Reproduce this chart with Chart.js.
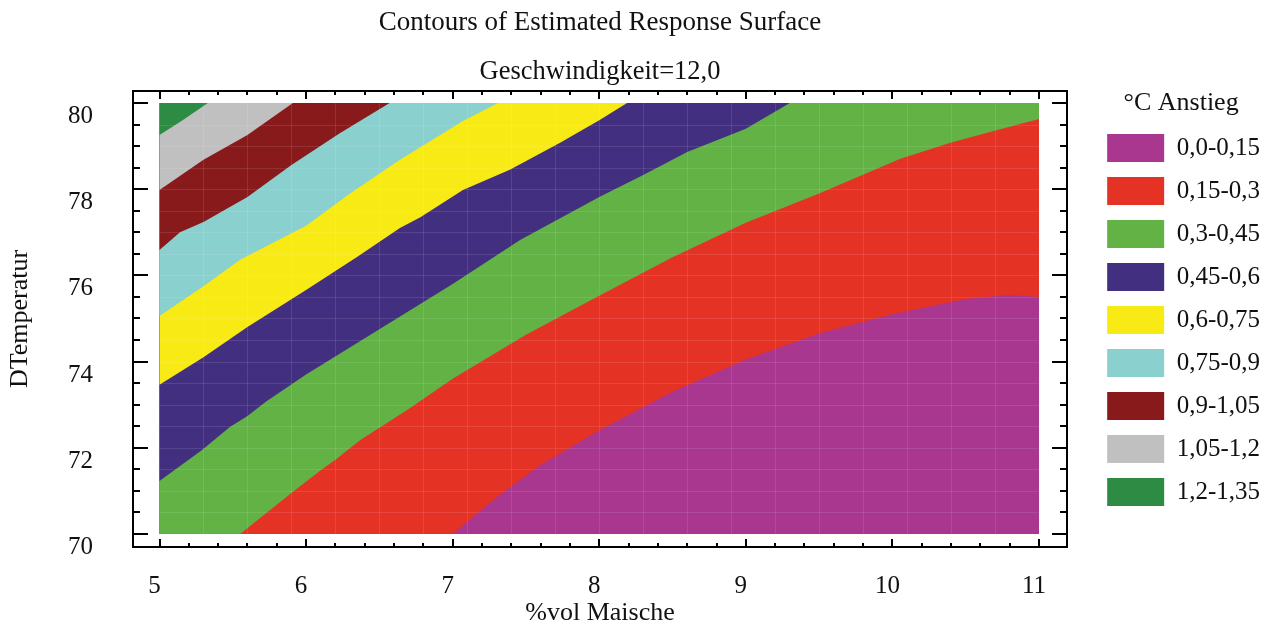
<!DOCTYPE html>
<html>
<head>
<meta charset="utf-8">
<title>Contours of Estimated Response Surface</title>
<script src="https://cdn.jsdelivr.net/npm/chart.js@4/dist/chart.umd.min.js"></script>
<style>
  html, body { margin: 0; padding: 0; background: #fff; }
  canvas { display: block; }
</style>
</head>
<body>
<canvas id="chart" width="1270" height="627"></canvas>
<script>
// Domain of the fitted surface
const X_RANGE = [5, 11];      // %vol Maische
const Y_RANGE = [70, 80];     // DTemperatur
const X_TICKS = [5, 6, 7, 8, 9, 10, 11];
const Y_TICKS = [70, 72, 74, 76, 78, 80];

// Response bands, lowest to highest
const BAND_LABELS = ['0,0-0,15', '0,15-0,3', '0,3-0,45', '0,45-0,6', '0,6-0,75',
                     '0,75-0,9', '0,9-1,05', '1,05-1,2', '1,2-1,35'];
const BAND_COLORS = ['#A9368F', '#E43225', '#62B246', '#432F80', '#F8EA14',
                     '#89D0CE', '#891A1C', '#C0C0C0', '#2E8B43'];

// Contour lines between neighbouring bands, as [%vol, DTemperatur] pairs
const contour015 = [[7.0, 70.0], [7.3, 70.85], [7.6, 71.6], [8.0, 72.4], [8.5, 73.3], [9.0, 74.05],
                    [9.5, 74.65], [10.0, 75.1], [10.5, 75.45], [10.8, 75.55], [11.0, 75.5]];
const contour030 = [[5.55, 70.0], [5.9, 70.95], [6.1, 71.48], [6.2, 71.72], [6.37, 72.18], [6.7, 72.9],
                    [7.0, 73.6], [7.5, 74.62], [8.0, 75.53], [8.5, 76.42], [9.0, 77.22], [9.5, 77.9],
                    [10.05, 78.7], [10.39, 79.07], [10.71, 79.37], [11.0, 79.63]];
const contour045 = [[5.0, 71.23], [5.29, 71.95], [5.48, 72.48], [5.6, 72.74], [5.73, 73.08], [6.0, 73.7],
                    [6.5, 74.75], [7.0, 75.8], [7.46, 76.82], [8.0, 77.82], [8.3, 78.33], [8.6, 78.86],
                    [9.0, 79.4], [9.3, 80.0]];
const contour060 = [[5.0, 73.46], [5.3, 74.1], [5.6, 74.8], [6.0, 75.66], [6.35, 76.43], [6.64, 77.1],
                    [6.78, 77.35], [7.07, 77.98], [7.39, 78.45], [7.73, 79.07], [8.0, 79.6], [8.19, 80.0]];
const contour075 = [[5.0, 75.06], [5.3, 75.75], [5.55, 76.36], [6.0, 77.15], [6.3, 77.9], [6.64, 78.68],
                    [7.07, 79.58], [7.31, 80.0]];
const contour090 = [[5.0, 76.59], [5.14, 77.0], [5.3, 77.24], [5.6, 77.82], [5.9, 78.56], [6.23, 79.3],
                    [6.57, 80.0]];
const contour105 = [[5.0, 77.98], [5.3, 78.68], [5.6, 79.26], [5.91, 80.0]];
const contour120 = [[5.0, 79.26], [5.15, 79.58], [5.33, 80.0]];

const CONTOURS = [contour015, contour030, contour045, contour060, contour075,
                  contour090, contour105, contour120];

// Closed outline of the part of the domain lying above a contour line
function regionAbove(line) {
  const [x0, x1] = X_RANGE;
  const [y0, y1] = Y_RANGE;
  const pts = line.map(([x, y]) => ({ x, y }));
  const first = line[0];
  const last = line[line.length - 1];
  if (last[0] === x1 && last[1] < y1) pts.push({ x: x1, y: y1 });
  pts.push({ x: x0, y: y1 });
  if (first[1] === y0 && first[0] > x0) pts.push({ x: x0, y: y0 });
  return pts;
}

const wholeDomain = [
  { x: X_RANGE[0], y: Y_RANGE[0] }, { x: X_RANGE[1], y: Y_RANGE[0] },
  { x: X_RANGE[1], y: Y_RANGE[1] }, { x: X_RANGE[0], y: Y_RANGE[1] }
];

// Highest band first so that it is painted on top
const datasets = BAND_LABELS.map((label, k) => ({
  label,
  data: k === 0 ? wholeDomain : regionAbove(CONTOURS[k - 1]),
  backgroundColor: BAND_COLORS[k],
  borderColor: BAND_COLORS[k],
  borderWidth: 0,
  pointRadius: 0,
  pointHoverRadius: 0,
  tension: 0,
  fill: 'shape'
})).reverse();

const TEXT = '#111';
const FONT = 'Liberation Serif';
Chart.defaults.font.family = FONT;
Chart.defaults.color = TEXT;

// Box around the plot, inward tick marks and the faint mesh of the surface
const framePlugin = {
  id: 'frame',
  afterDatasetsDraw(chart) {
    const { ctx, chartArea: a, scales: { x, y } } = chart;
    const L = x.getPixelForValue(X_RANGE[0]);
    const R = x.getPixelForValue(X_RANGE[1]);
    const T = y.getPixelForValue(Y_RANGE[1]);
    const B = y.getPixelForValue(Y_RANGE[0]);

    ctx.save();
    ctx.beginPath();
    ctx.rect(L, T, R - L, B - T);
    ctx.clip();
    ctx.strokeStyle = 'rgba(255,255,255,0.10)';
    ctx.lineWidth = 1;
    ctx.beginPath();
    for (let i = 1; X_RANGE[0] + 0.3 * i < X_RANGE[1]; i++) {
      const px = Math.round(x.getPixelForValue(X_RANGE[0] + 0.3 * i)) + 0.5;
      ctx.moveTo(px, T); ctx.lineTo(px, B);
    }
    for (let i = 1; Y_RANGE[0] + 0.5 * i < Y_RANGE[1]; i++) {
      const py = Math.round(y.getPixelForValue(Y_RANGE[0] + 0.5 * i)) + 0.5;
      ctx.moveTo(L, py); ctx.lineTo(R, py);
    }
    ctx.stroke();
    ctx.restore();

    ctx.save();
    ctx.strokeStyle = '#000';
    ctx.lineWidth = 2;
    ctx.strokeRect(a.left, a.top, a.right - a.left, a.bottom - a.top);
    ctx.beginPath();
    for (let i = 0; ; i++) {
      const v = X_RANGE[0] + 0.2 * i;
      if (v > X_RANGE[1] + 1e-6) break;
      const major = Math.abs(v - Math.round(v)) < 1e-6;
      const len = major ? 8 : 4;
      const px = Math.round(x.getPixelForValue(v));
      ctx.moveTo(px, a.bottom); ctx.lineTo(px, a.bottom - len);
      ctx.moveTo(px, a.top); ctx.lineTo(px, a.top + len);
    }
    for (let i = 0; ; i++) {
      const v = Y_RANGE[0] + 0.5 * i;
      if (v > Y_RANGE[1] + 1e-6) break;
      const major = Y_TICKS.includes(v);
      const len = major ? 15 : 7;
      const py = Math.round(y.getPixelForValue(v));
      ctx.moveTo(a.left, py); ctx.lineTo(a.left + len, py);
      ctx.moveTo(a.right, py); ctx.lineTo(a.right - len, py);
    }
    ctx.stroke();
    ctx.restore();
  }
};

new Chart(document.getElementById('chart'), {
  type: 'line',
  data: { datasets },
  options: {
    responsive: false,
    animation: false,
    events: [],
    layout: { padding: 0 },
    scales: {
      x: {
        type: 'linear',
        min: 4.8192,
        max: 11.191,
        afterBuildTicks: s => { s.ticks = X_TICKS.map(value => ({ value })); },
        afterFit: s => { s.height = 80; },
        grid: { display: false, drawTicks: false },
        border: { display: false },
        ticks: {
          autoSkip: false, maxRotation: 0, padding: 27, labelOffset: -5,
          font: { size: 25, lineHeight: 1 }, color: TEXT,
          callback: v => String(v)
        },
        title: {
          display: true, text: '%vol Maische', color: TEXT,
          font: { size: 26, lineHeight: 1 }, padding: { top: 0, bottom: 1 }
        }
      },
      y: {
        type: 'linear',
        min: 69.698,
        max: 80.278,
        afterBuildTicks: s => { s.ticks = Y_TICKS.map(value => ({ value })); },
        afterFit: s => { s.width = 133; },
        grid: { display: false, drawTicks: false },
        border: { display: false },
        ticks: {
          autoSkip: false, padding: 40, labelOffset: 13.5,
          font: { size: 25, lineHeight: 1 }, color: TEXT,
          callback: v => String(v)
        },
        title: {
          display: true, text: 'DTemperatur', color: TEXT,
          font: { size: 26, lineHeight: 1 }, padding: { top: 7, bottom: 0 }
        }
      },
      gap: {
        type: 'linear',
        position: 'right',
        display: true,
        grid: { display: false, drawTicks: false },
        border: { display: false },
        ticks: { display: false },
        afterFit: s => { s.width = Math.max(0, s.chart.width - 1067 - s.chart.legend.width); }
      }
    },
    plugins: {
      title: {
        display: true, fullSize: false, color: TEXT,
        text: 'Contours of Estimated Response Surface',
        font: { size: 27, weight: 'normal', lineHeight: 1 },
        padding: { top: 9, bottom: 10 }
      },
      subtitle: {
        display: true, fullSize: false, color: TEXT,
        text: 'Geschwindigkeit=12,0',
        font: { size: 26.5, weight: 'normal', lineHeight: 1 },
        padding: { top: 13, bottom: 5.5 }
      },
      legend: {
        position: 'right',
        align: 'start',
        reverse: true,
        title: {
          display: true, text: '°C Anstieg', color: TEXT,
          font: { size: 26, lineHeight: 1 },
          padding: { top: 90, bottom: 3 }
        },
        labels: {
          boxWidth: 57, boxHeight: 28, padding: 15,
          font: { size: 25 }, color: TEXT
        }
      },
      tooltip: { enabled: false }
    }
  },
  plugins: [framePlugin]
});
</script>
</body>
</html>
